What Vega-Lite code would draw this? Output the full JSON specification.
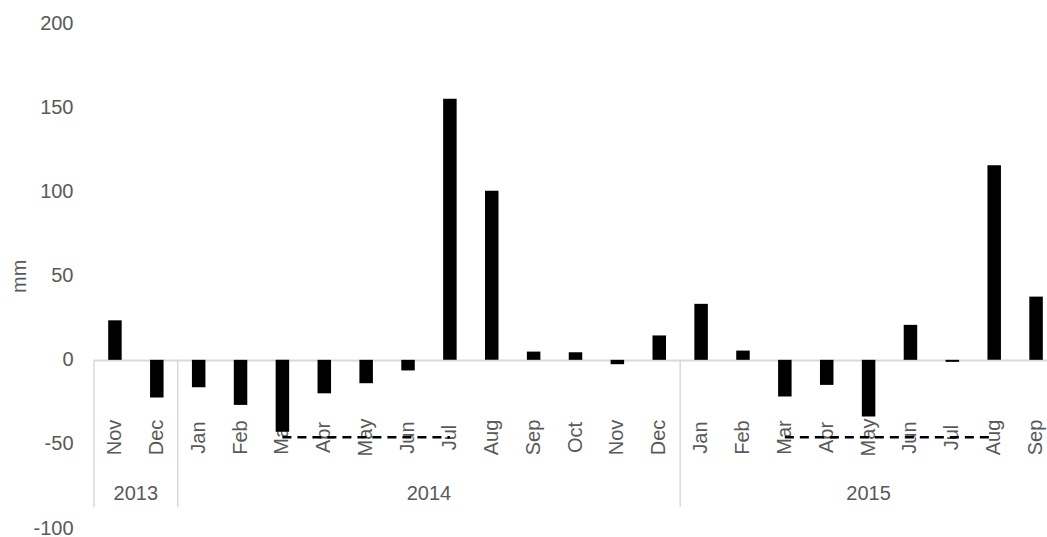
{
  "$schema": "https://vega.github.io/schema/vega-lite/v6.json",
  "width": 953,
  "height": 504.5,
  "autosize": {"type": "none"},
  "padding": {"left": 94, "top": 23.5, "right": 0, "bottom": 9},
  "config": {"view": {"stroke": null}, "font": "Liberation Sans, Arial, sans-serif"},
  "datasets": {
    "bars": [
      {"key": "2013-11", "value": 23.5},
      {"key": "2013-12", "value": -22.4},
      {"key": "2014-01", "value": -16.3},
      {"key": "2014-02", "value": -26.8},
      {"key": "2014-03", "value": -42.7},
      {"key": "2014-04", "value": -19.9},
      {"key": "2014-05", "value": -13.9},
      {"key": "2014-06", "value": -6.3},
      {"key": "2014-07", "value": 155.2},
      {"key": "2014-08", "value": 100.5},
      {"key": "2014-09", "value": 4.9},
      {"key": "2014-10", "value": 4.5},
      {"key": "2014-11", "value": -2.6},
      {"key": "2014-12", "value": 14.5},
      {"key": "2015-01", "value": 33.3},
      {"key": "2015-02", "value": 5.5},
      {"key": "2015-03", "value": -21.8},
      {"key": "2015-04", "value": -14.9},
      {"key": "2015-05", "value": -33.7},
      {"key": "2015-06", "value": 20.8},
      {"key": "2015-07", "value": -1.2},
      {"key": "2015-08", "value": 115.7},
      {"key": "2015-09", "value": 37.6}
    ],
    "dash": [
      {"period": "2014", "key": "2014-03", "value": -46},
      {"period": "2014", "key": "2014-07", "value": -46},
      {"period": "2015", "key": "2015-03", "value": -46},
      {"period": "2015", "key": "2015-08", "value": -46}
    ],
    "sep": [{"key": "2013-11"}, {"key": "2014-01"}, {"key": "2015-01"}],
    "yearsA": [{"key": "2013-11", "year": "2013"}, {"key": "2014-06", "year": "2014"}],
    "yearsB": [{"key": "2015-05", "year": "2015"}]
  },
  "layer": [
    {
      "data": {"name": "bars"},
      "mark": {"type": "bar", "color": "#000000", "size": 13.5},
      "encoding": {
        "x": {
          "field": "key", "type": "nominal", "title": null,
          "scale": {
            "domain": ["2013-11","2013-12","2014-01","2014-02","2014-03","2014-04","2014-05","2014-06","2014-07","2014-08","2014-09","2014-10","2014-11","2014-12","2015-01","2015-02","2015-03","2015-04","2015-05","2015-06","2015-07","2015-08","2015-09"],
            "range": [0, 963], "paddingInner": 0, "paddingOuter": 0
          },
          "axis": {
            "orient": "bottom", "offset": -168,
            "domainColor": "#d9d9d9", "domainWidth": 2,
            "ticks": false, "tickSize": 0, "grid": false,
            "labelAngle": 270, "labelAlign": "center", "labelBaseline": "middle",
            "labelPadding": 77, "labelFontSize": 20, "labelColor": "#595959",
            "labelOverlap": false,
            "labelExpr": "['Jan','Feb','Mar','Apr','May','Jun','Jul','Aug','Sep','Oct','Nov','Dec'][toNumber(substring(datum.value,5,7))-1]"
          }
        },
        "y": {
          "field": "value", "type": "quantitative", "title": "mm",
          "scale": {"domain": [-100, 200], "nice": false, "zero": false},
          "axis": {
            "values": [-100, -50, 0, 50, 100, 150, 200],
            "domain": false, "ticks": false, "tickSize": 0, "grid": false,
            "labelPadding": 21, "labelFontSize": 20, "labelColor": "#595959",
            "labelExpr": "toString(datum.value)",
            "titleColor": "#595959", "titleFontSize": 20, "titleFontWeight": "normal",
            "titleAngle": 270, "titleAlign": "center", "titleBaseline": "middle",
            "titleX": -75, "titleY": 252.25
          }
        }
      }
    },
    {
      "data": {"name": "sep"},
      "mark": {"type": "rule", "color": "#d9d9d9", "strokeWidth": 1.5},
      "encoding": {
        "x": {"field": "key", "type": "nominal", "bandPosition": 0, "title": null},
        "y": {"datum": 0, "type": "quantitative"},
        "y2": {"datum": -87.5}
      }
    },
    {
      "data": {"name": "yearsA"},
      "mark": {"type": "text", "fontSize": 20, "color": "#595959", "align": "center", "baseline": "middle"},
      "encoding": {
        "x": {"field": "key", "type": "nominal", "bandPosition": 1, "title": null},
        "y": {"datum": -79.7, "type": "quantitative"},
        "text": {"field": "year"}
      }
    },
    {
      "data": {"name": "yearsB"},
      "mark": {"type": "text", "fontSize": 20, "color": "#595959", "align": "center", "baseline": "middle"},
      "encoding": {
        "x": {"field": "key", "type": "nominal", "bandPosition": 0.5, "title": null},
        "y": {"datum": -79.7, "type": "quantitative"},
        "text": {"field": "year"}
      }
    },
    {
      "data": {"name": "dash"},
      "mark": {"type": "line", "color": "#000000", "strokeWidth": 2.5, "strokeDash": [9, 6]},
      "encoding": {
        "x": {"field": "key", "type": "nominal", "title": null},
        "y": {"field": "value", "type": "quantitative", "title": "mm"},
        "detail": {"field": "period"}
      }
    }
  ]
}
